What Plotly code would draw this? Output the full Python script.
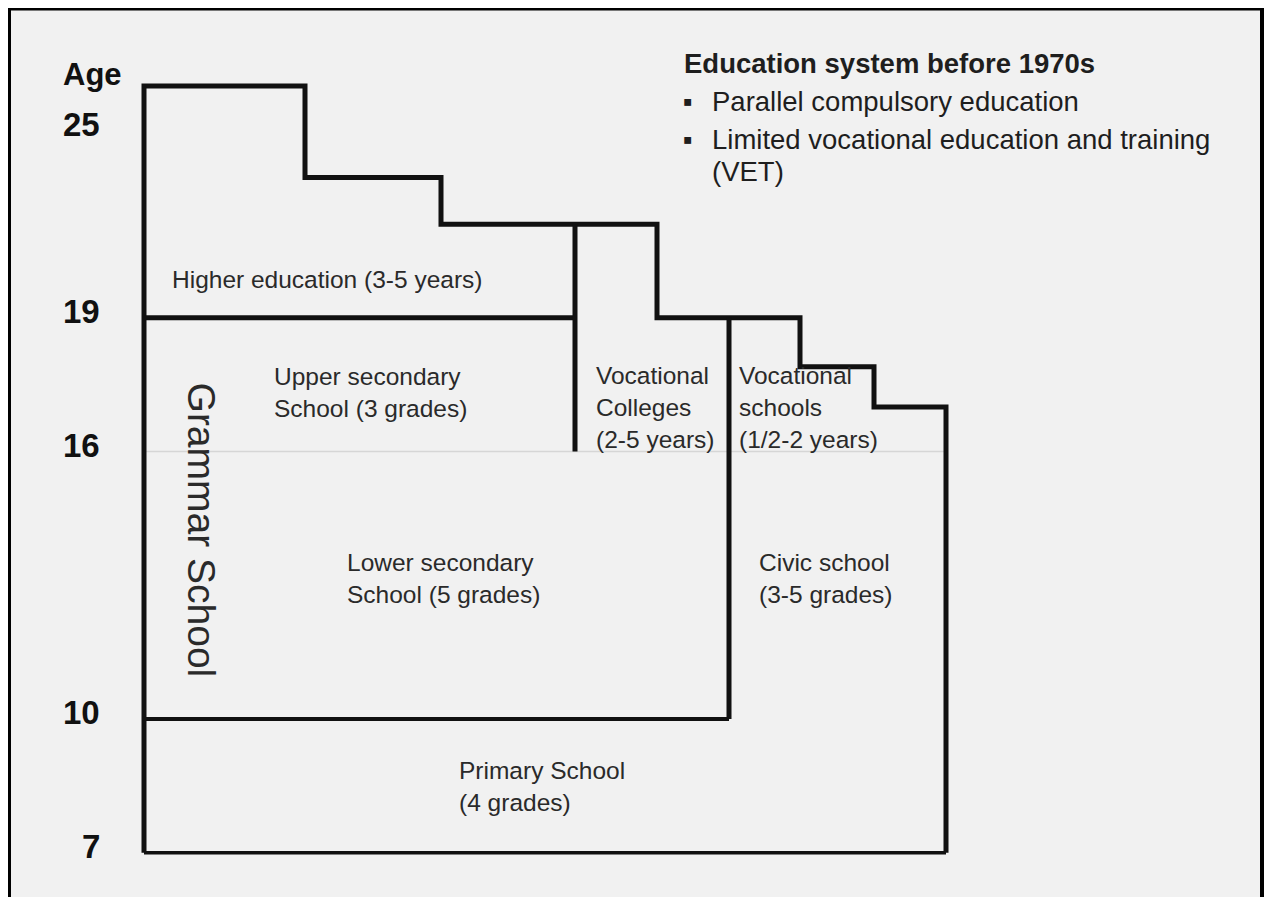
import plotly.graph_objects as go

# ---- Diagram data -------------------------------------------------------
# Column boundaries of the schematic (horizontal units of the diagram)
X_LEFT, X_STEP1, X_STEP2, X_VC, X_STEP3, X_VS, X_STEP4, X_STEP5, X_RIGHT = (
    144, 305, 441, 575, 657, 729, 800, 874, 946)

# Age levels used by the schematic
AGE_START = 7
AGE_LOWER_SEC = 10
AGE_UPPER_SEC = 16
AGE_HIGHER = 19
outline_x = [X_LEFT, X_LEFT, X_STEP1, X_STEP1, X_STEP2, X_STEP2, X_STEP3, X_STEP3,
             X_STEP4, X_STEP4, X_STEP5, X_STEP5, X_RIGHT, X_RIGHT]
outline_age = [AGE_START, 24.2, 24.2, 22.15, 22.15, 21.1, 21.1, 19,
               19, 17.9, 17.9, 17.0, 17.0, AGE_START]

age_ticks = [7, 10, 16, 19, 23.2]
age_tick_labels = ["7", "10", "16", "19", "25"]

labels = [
    ("Higher education (3-5 years)", 170, 19.87),
    ("Upper secondary<br>School (3 grades)", 272, 17.32),
    ("Vocational<br>Colleges<br>(2-5 years)", 594, 16.98),
    ("Vocational<br>schools<br>(1/2-2 years)", 737, 16.98),
    ("Lower secondary<br>School (5 grades)", 345, 13.16),
    ("Civic school<br>(3-5 grades)", 757, 13.16),
    ("Primary School<br>(4 grades)", 457, 8.49),
]

notes_title = "Education system before 1970s"
notes_bullets = ["Parallel compulsory education",
                 "Limited vocational education and training"]
notes_cont = "(VET)"

# ---- Figure -------------------------------------------------------------
OFF = 8                     # page offset of the figure (body margin)
W, H = 1272 - 2 * OFF, 897 - OFF

def px(x):                  # page x -> paper fraction
    return (x - OFF) / W

def py(y):                  # page y -> paper fraction
    return 1 - (y - OFF) / H

fig = go.Figure()
LINE = "#111111"

def seg(xs, ys, w, color=LINE):
    fig.add_trace(go.Scatter(x=xs, y=ys, mode="lines", hoverinfo="skip",
                             line=dict(color=color, width=w), showlegend=False))

seg([X_LEFT, X_RIGHT], [AGE_UPPER_SEC, AGE_UPPER_SEC], 1.5, "#d6d6d6")
seg(outline_x, outline_age, 5)
seg([X_LEFT, X_VC], [AGE_HIGHER, AGE_HIGHER], 5)
seg([X_VC, X_VC], [21.1, AGE_UPPER_SEC], 5)
seg([X_VS, X_VS], [AGE_HIGHER, AGE_LOWER_SEC], 5)
seg([X_LEFT, X_VS], [AGE_LOWER_SEC, AGE_LOWER_SEC], 4)
seg([X_LEFT, X_RIGHT], [AGE_START, AGE_START], 3.5)

TXT = "#2a2a2a"
FONT = "Liberation Sans, Arial, sans-serif"
for text, x, y in labels:
    fig.add_annotation(x=x, y=y, text=text, showarrow=False, xanchor="left",
                       yanchor="middle", align="left",
                       font=dict(family=FONT, size=24.5, color=TXT))

fig.add_annotation(x=201, y=14.25, text="Grammar School", textangle=90,
                   showarrow=False, xanchor="center", yanchor="middle",
                   font=dict(family=FONT, size=39, color=TXT))

# age scale labels (sit slightly above their boundary lines)
AGEFONT = dict(family=FONT, size=33, color="#111111", weight="bold")
for v, t in zip(age_ticks, age_tick_labels):
    fig.add_annotation(x=102, y=v, text="<b>%s</b>" % t, showarrow=False,
                       xanchor="right", yanchor="middle", yshift=6, font=AGEFONT)
fig.add_annotation(xref="paper", yref="paper", x=px(61), y=py(75),
                   text="<b>Age</b>", showarrow=False, xanchor="left",
                   yanchor="middle", font=dict(family=FONT, size=31,
                                               color="#111111", weight="bold"))

# top-right notes
NOTE = dict(family=FONT, size=27.5, color="#1e1e1e")
fig.add_annotation(xref="paper", yref="paper", x=px(682), y=py(63),
                   text="<b>%s</b>" % notes_title, showarrow=False,
                   xanchor="left", yanchor="middle", font=NOTE)
for i, b in enumerate(notes_bullets):
    yb = 102 + 37 * i
    fig.add_annotation(xref="paper", yref="paper", x=px(681), y=py(yb),
                       text="▪", showarrow=False, xanchor="left",
                       yanchor="middle", font=NOTE)
    fig.add_annotation(xref="paper", yref="paper", x=px(710), y=py(yb),
                       text=b, showarrow=False, xanchor="left",
                       yanchor="middle", font=NOTE)
fig.add_annotation(xref="paper", yref="paper", x=px(710), y=py(171),
                   text=notes_cont, showarrow=False, xanchor="left",
                   yanchor="middle", font=NOTE)

# frame
fig.add_shape(type="rect", xref="paper", yref="paper",
              x0=px(9), x1=px(1262), y0=-0.05, y1=py(8.5),
              line=dict(color="#000", width=4), fillcolor="#f1f1f1", layer="below")

y_top = 13 + (585.25 - OFF) / 44.57
y_bot = 13 - (897 - 585.25) / 44.57

fig.update_layout(
    width=W, height=H,
    margin=dict(l=0, r=0, t=0, b=0),
    paper_bgcolor="white", plot_bgcolor="white",
    xaxis=dict(range=[OFF, OFF + W], visible=False, fixedrange=True),
    yaxis=dict(range=[y_bot, y_top], visible=False, fixedrange=True),
)

fig.write_html("out.html")
